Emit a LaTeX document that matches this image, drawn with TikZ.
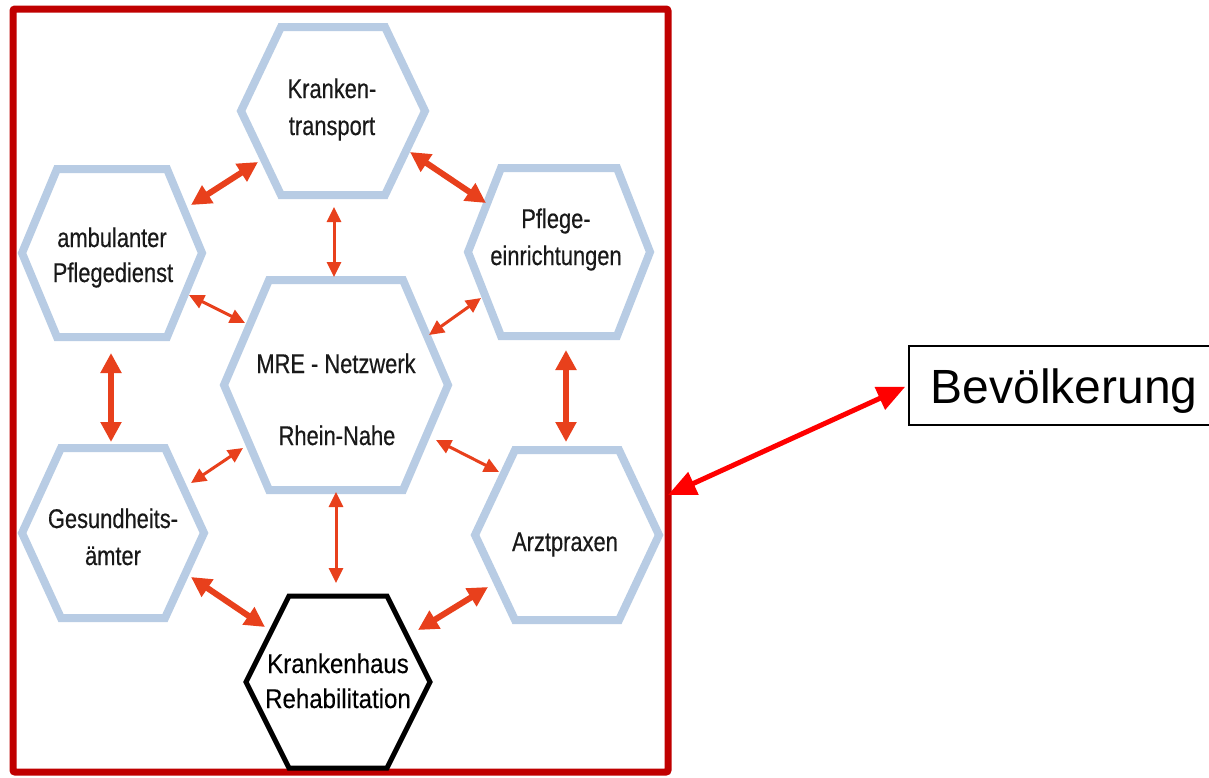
\documentclass[tikz,border=0pt]{standalone}
\usepackage{fontspec}
\setmainfont{Liberation Sans}
\newfontfamily\hexfont[FakeStretch=0.81,FakeBold=0.4]{Liberation Sans}
\newfontfamily\khfont[FakeStretch=0.89,FakeBold=0.3]{Liberation Sans}
\usetikzlibrary{arrows.meta}
\definecolor{hexblue}{HTML}{B8CCE4}
\definecolor{frred}{HTML}{C00000}
\definecolor{arrorange}{HTML}{E8401C}
\newcommand\myhex[6]{\draw[#1] ({#2-#4},#3) -- ({#2-#5},{#3-#6}) -- ({#2+#5},{#3-#6}) -- ({#2+#4},#3) -- ({#2+#5},{#3+#6}) -- ({#2-#5},{#3+#6}) -- cycle;}
\begin{document}
\begin{tikzpicture}[x=1pt,y=-1pt,
  hexline/.style={draw=hexblue,line width=8pt,line join=miter},
  hexblack/.style={draw=black,line width=5pt,line join=miter},
  lbl/.style={font=\hexfont\fontsize{27}{37}\selectfont,text=black!90,inner sep=0pt,anchor=base},
  lblbig/.style={font=\khfont\fontsize{27}{36}\selectfont,inner sep=0pt,anchor=base},
  bigarr/.style={draw=arrorange,line width=6pt,{Triangle[length=20pt,width=20pt]}-{Triangle[length=20pt,width=20pt]}},
  smallarr/.style={draw=arrorange,line width=3pt,{Triangle[length=15pt,width=14pt]}-{Triangle[length=15pt,width=14pt]}},
  bevarr/.style={draw=red,line width=5pt,{Triangle[length=28pt,width=24pt]}-{Triangle[length=28pt,width=24pt]}},
]
\useasboundingbox (0,0) rectangle (1209,777);
\fill[white] (0,0) rectangle (1209,777);

% frame
\node[draw=frred,line width=7pt,rounded corners=2pt,minimum width=655pt,minimum height=763pt,inner sep=0pt] (frame) at (340.5,390.5) {};

% hexagons
\myhex{hexline}{333}{111}{92}{52}{84}
\myhex{hexline}{112}{253}{90}{55}{84}
\myhex{hexline}{559}{252}{91}{58}{84}
\myhex{hexline}{336}{385}{112}{67}{105}
\myhex{hexline}{113}{533}{91}{52}{85}
\myhex{hexline}{567}{535}{92}{52}{85}
\myhex{hexblack}{338}{682}{92}{49}{86}

% labels
\node[lbl] (kt1) at (332,98) {Kranken-};
\node[lbl] (kt2) at (332,135) {transport};
\node[lbl] (ap1) at (112,247) {ambulanter};
\node[lbl] (ap2) at (113,282) {Pflegedienst};
\node[lbl] (pe1) at (556,228) {Pflege-};
\node[lbl] (pe2) at (556,265) {einrichtungen};
\node[lbl] (mre1) at (336,373) {MRE - Netzwerk};
\node[lbl] (mre2) at (337,445) {Rhein-Nahe};
\node[lbl] (ga1) at (113,528) {Gesundheits-};
\node[lbl] (ga2) at (113,565) {ämter};
\node[lbl] (az) at (565,551) {Arztpraxen};
\node[lblbig] (kh1) at (338,673) {Krankenhaus};
\node[lblbig] (kh2) at (338,708) {Rehabilitation};

% arrow end points
\coordinate (a1s) at (191,205); \coordinate (a1e) at (258,162);
\coordinate (a2s) at (410,152); \coordinate (a2e) at (486,203);
\coordinate (a3s) at (334,207); \coordinate (a3e) at (334,277);
\coordinate (a4s) at (189,295); \coordinate (a4e) at (245,323);
\coordinate (a5s) at (481,298); \coordinate (a5e) at (429,335);
\coordinate (a6s) at (111,353); \coordinate (a6e) at (111,442);
\coordinate (a7s) at (566,350); \coordinate (a7e) at (566,442);
\coordinate (a8s) at (243,448); \coordinate (a8e) at (191,483);
\coordinate (a9s) at (436,440); \coordinate (a9e) at (499,472);
\coordinate (a10s) at (336,492); \coordinate (a10e) at (336,583);
\coordinate (a11s) at (191,577); \coordinate (a11e) at (265,627);
\coordinate (a12s) at (488,587); \coordinate (a12e) at (418,630);

\draw[bigarr] (a1s) -- (a1e);
\draw[bigarr] (a2s) -- (a2e);
\draw[smallarr] (a3s) -- (a3e);
\draw[smallarr] (a4s) -- (a4e);
\draw[smallarr] (a5s) -- (a5e);
\draw[bigarr] (a6s) -- (a6e);
\draw[bigarr] (a7s) -- (a7e);
\draw[smallarr] (a8s) -- (a8e);
\draw[smallarr] (a9s) -- (a9e);
\draw[smallarr] (a10s) -- (a10e);
\draw[bigarr] (a11s) -- (a11e);
\draw[bigarr] (a12s) -- (a12e);

% Bevoelkerung
\node[draw=black,line width=1.5pt,anchor=west,minimum height=79pt,text height=35pt,text depth=0pt,inner xsep=22pt,font=\fontsize{48}{58}\selectfont] (bev) at (908,385.5) {Bevölkerung};
\coordinate (frtip) at (668,495);
\draw[bevarr,shorten >=3pt] (frtip) -- (bev.west);
\end{tikzpicture}
\end{document}
